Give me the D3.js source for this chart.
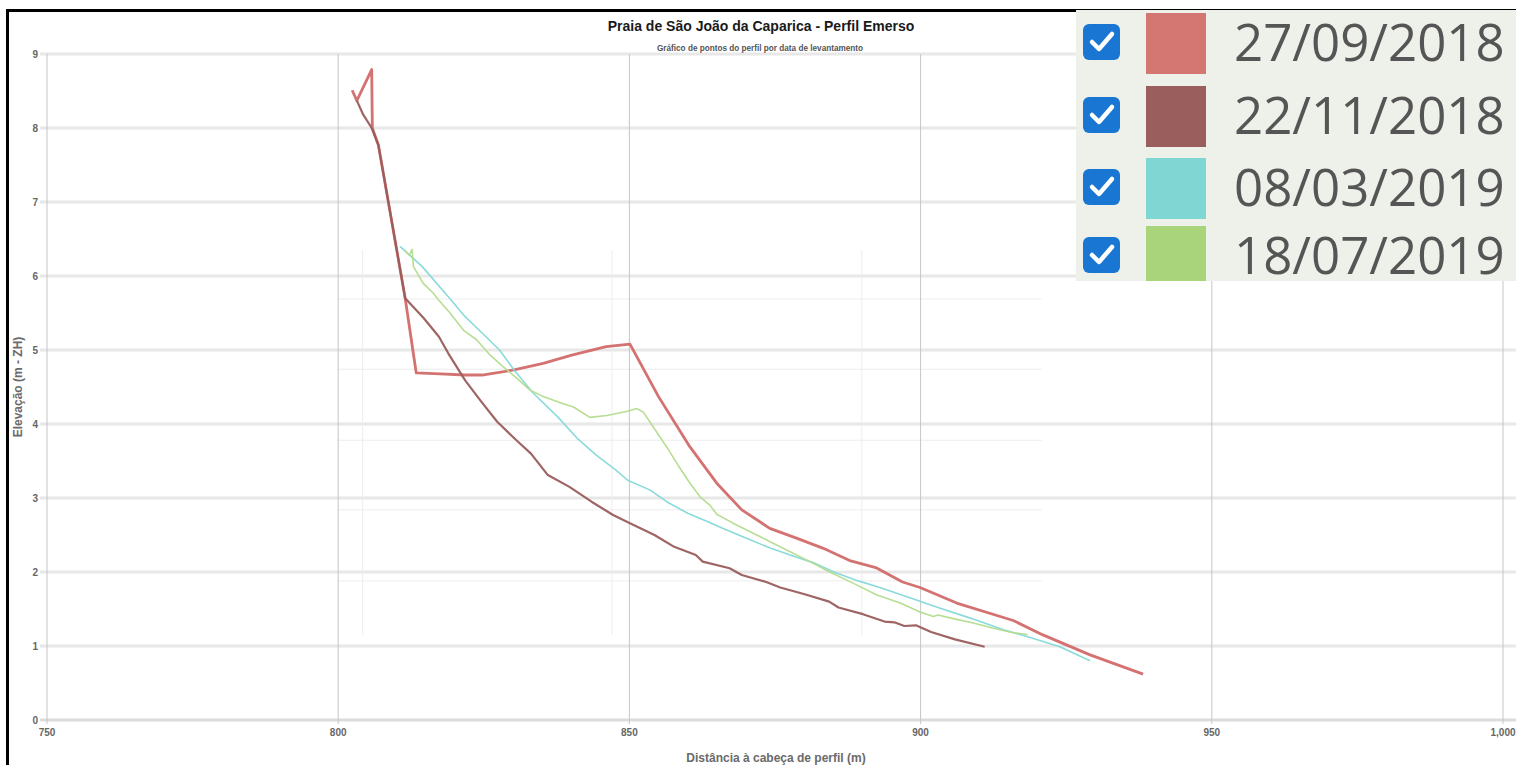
<!DOCTYPE html>
<html><head><meta charset="utf-8">
<script src="https://cdn.jsdelivr.net/npm/d3@7"></script>
<style>body{margin:0;background:#fff}svg{display:block}</style>
</head><body><svg id="c" width="1516" height="765"></svg>
<script>
const title = "Praia de São João da Caparica - Perfil Emerso";
const subtitle = "Gráfico de pontos do perfil por data de levantamento";
const xLabel = "Distância à cabeça de perfil (m)";
const yLabel = "Elevação (m - ZH)";
const xTicks = [750, 800, 850, 900, 950, 1000];
const yTicks = [0,1,2,3,4,5,6,7,8,9];
const seriesNames = ["27/09/2018","22/11/2018","08/03/2019","18/07/2019"];
const seriesColors = ["#d26a6a","#9a5c5c","#84d8d8","#b3dc8c"];
const swatchColors = ["#d47773","#9a5f5d","#80d6d3","#a9d47c"];

const s1 = [[802.4,8.51],[803.2,8.37],[805.75,8.79],[805.86,8.0],[806.9,7.77],[811.5,5.70],[813.4,4.69],
[817.5,4.676],[821.8,4.662],[824.7,4.662],[830.2,4.73],[835.2,4.82],[840.1,4.93],[846.0,5.045],[850.1,5.08],
[855.0,4.37],[860.4,3.69],[865.0,3.20],[869.3,2.84],[874.1,2.59],[878.8,2.455],[883.3,2.32],[888.0,2.15],
[892.3,2.06],[896.9,1.865],[899.9,1.79],[906.2,1.58],[915.9,1.345],[921.0,1.15],[929.1,0.88],[938.2,0.62]];
const s2 = [[803.2,8.37],[804.3,8.18],[805.75,8.0],[806.9,7.77],[811.5,5.70],[814.7,5.43],[817.3,5.18],[818.9,4.955],
[821.8,4.59],[824.5,4.31],[827.3,4.03],[830.6,3.78],[833.1,3.60],[836.0,3.31],[839.7,3.15],[843.5,2.95],[847.2,2.77],
[850.1,2.66],[854.3,2.50],[857.7,2.34],[861.4,2.23],[862.6,2.14],[867.2,2.05],[869.3,1.96],[873.5,1.865],[875.9,1.79],
[880.1,1.70],[884.3,1.60],[885.9,1.52],[890.1,1.43],[893.8,1.33],[895.5,1.32],[897.2,1.27],[899.2,1.28],[901.8,1.19],
[905.9,1.09],[911.0,0.99]];
const s3 = [[810.6,6.40],[814.4,6.13],[818.9,5.72],[821.8,5.45],[824.7,5.23],[827.7,5.00],[830.2,4.73],[833.5,4.415],
[837.65,4.10],[841.0,3.81],[844.3,3.58],[847.65,3.38],[849.7,3.24],[853.5,3.11],[856.4,2.95],[860.1,2.79],[863.5,2.68],
[866.0,2.59],[870.1,2.455],[874.3,2.32],[877.6,2.23],[881.8,2.12],[885.1,2.00],[889.3,1.88],[893.4,1.78],[898.4,1.645],
[902.6,1.53],[908.8,1.37],[914.2,1.22],[918.4,1.125],[923.9,0.99],[929.1,0.80]];
const s4 = [[811.4,6.35],[812.2,6.28],[812.7,6.36],[812.9,6.13],[814.6,5.90],[816.3,5.77],[817.2,5.68],[819.2,5.50],
[821.5,5.27],[823.8,5.135],[826.1,4.93],[828.3,4.775],[830.65,4.62],[832.9,4.46],[835.2,4.37],[838.4,4.28],[840.4,4.23],
[843.2,4.09],[846.1,4.115],[849.5,4.17],[851.25,4.21],[852.4,4.16],[854.1,3.96],[856.4,3.69],[858.3,3.45],[860.4,3.20],
[862.1,3.02],[863.8,2.905],[865.0,2.78],[867.8,2.66],[872.4,2.48],[876.4,2.32],[881.0,2.14],[884.4,2.00],[888.4,1.85],
[892.5,1.69],[896.5,1.58],[899.9,1.46],[902.2,1.40],[903.0,1.42],[905.6,1.37],[909.05,1.31],[912.5,1.24],[915.9,1.18],[918.4,1.155]];
const series = [s1,s2,s3,s4];
const widths = [2.8,2.2,1.6,1.6];

// faint ghost grid seen behind the profile
const ghostX = [804.2, 847.0, 889.9];
const ghostY = [5.69, 4.74, 3.78, 2.84, 1.88];
const ghostXExtent = [799.8, 920.8];
const ghostYExtent = [1.15, 6.35];

const svg = d3.select("#c");
const x = d3.scaleLinear().domain([750,1000]).range([47,1503]);
const y = d3.scaleLinear().domain([0,9]).range([720,54]);
const FONT = "Liberation Sans, Arial, Helvetica, sans-serif";

svg.append("rect").attr("width",1516).attr("height",765).attr("fill","#fff");

// horizontal grid
svg.append("g").selectAll("line").data(yTicks).join("line")
  .attr("x1",40).attr("x2",1516).attr("y1",d=>y(d)).attr("y2",d=>y(d))
  .attr("stroke",d=>d===0?"#dcdcdc":"#e8e8e8").attr("stroke-width",3);
// ghost grid
svg.append("g").selectAll("line").data(ghostY).join("line")
  .attr("x1",x(ghostXExtent[0])).attr("x2",x(ghostXExtent[1])).attr("y1",d=>y(d)).attr("y2",d=>y(d))
  .attr("stroke","#ededed").attr("stroke-width",1);
svg.append("g").selectAll("line").data(ghostX).join("line")
  .attr("y1",y(ghostYExtent[1])).attr("y2",y(ghostYExtent[0])).attr("x1",d=>x(d)).attr("x2",d=>x(d))
  .attr("stroke","#ededed").attr("stroke-width",1);
// vertical grid
svg.append("g").selectAll("line").data(xTicks).join("line")
  .attr("x1",d=>x(d)).attr("x2",d=>x(d)).attr("y1",y(9)).attr("y2",724)
  .attr("stroke","#c6c6c6").attr("stroke-width",1);

// tick labels
svg.append("g").selectAll("text").data(yTicks).join("text")
  .attr("x",38).attr("y",d=>y(d)+3.5).attr("text-anchor","end")
  .attr("font-family",FONT).attr("font-weight","bold")
  .attr("font-size",10).attr("fill","#666").text(d=>d);
svg.append("g").selectAll("text").data(xTicks).join("text")
  .attr("x",d=>x(d)).attr("y",736).attr("text-anchor","middle")
  .attr("font-family",FONT).attr("font-weight","bold")
  .attr("font-size",10).attr("fill","#666").text(d=>d3.format(",")(d));

// axis titles
svg.append("text").attr("x",776).attr("y",762).attr("text-anchor","middle")
  .attr("font-family",FONT).attr("font-size",12).attr("font-weight","bold")
  .attr("fill","#6a6a6a").text(xLabel);
svg.append("text").attr("transform","translate(22,387) rotate(-90)").attr("text-anchor","middle")
  .attr("font-family",FONT).attr("font-size",12).attr("font-weight","bold")
  .attr("fill","#6a6a6a").text(yLabel);

// title
svg.append("text").attr("x",761).attr("y",31).attr("text-anchor","middle")
  .attr("font-family",FONT).attr("font-weight","bold")
  .attr("font-size",14).attr("fill","#1a1a1a").text(title);
svg.append("text").attr("x",760).attr("y",51).attr("text-anchor","middle")
  .attr("font-family",FONT).attr("font-weight","bold")
  .attr("font-size",8.2).attr("fill","#555").text(subtitle);

// lines
const line = d3.line().x(d=>x(d[0])).y(d=>y(d[1]));
series.forEach((s,i)=>{
  svg.append("path").attr("d",line(s)).attr("fill","none")
    .attr("stroke",seriesColors[i]).attr("stroke-width",widths[i])
    .attr("stroke-linejoin","round").attr("stroke-opacity",0.95);
});

// border
svg.append("rect").attr("x",6).attr("y",9).attr("width",1510).attr("height",3).attr("fill","#000");
svg.append("rect").attr("x",6).attr("y",9).attr("width",3).attr("height",756).attr("fill","#000");

// legend
const lg = svg.append("g");
lg.append("rect").attr("x",1076).attr("y",10).attr("width",440).attr("height",271).attr("fill","#eef0ea");
const rowY = [13, 86, 158, 226];
seriesNames.forEach((n,i)=>{
  const g = lg.append("g").attr("transform",`translate(0,${rowY[i]})`);
  g.append("rect").attr("x",1083).attr("y",11).attr("width",37).attr("height",36).attr("rx",6).attr("fill","#1976d2");
  g.append("path").attr("d","M1092,29 L1099,36 L1112,21").attr("fill","none").attr("stroke","#fff")
    .attr("stroke-width",4.5).attr("stroke-linecap","round").attr("stroke-linejoin","round");
  g.append("rect").attr("x",1146).attr("y",0).attr("width",60).attr("height",Math.min(61,281-rowY[i])).attr("fill",swatchColors[i]);
  g.append("text").attr("x",1234).attr("y",48).attr("font-family","Open Sans, sans-serif")
    .attr("font-size",51).attr("font-weight",500).attr("fill","#555").text(n);
});
</script></body></html>
